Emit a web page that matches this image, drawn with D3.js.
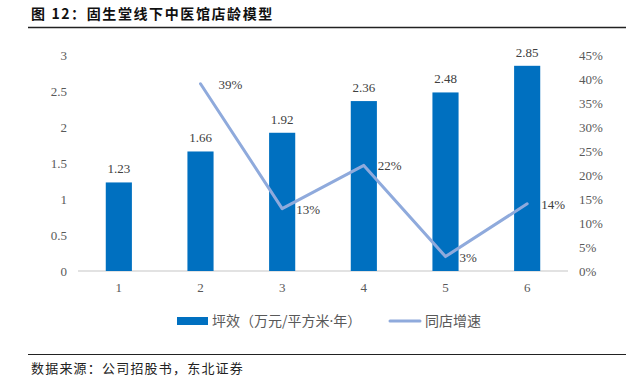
<!DOCTYPE html>
<html>
<head>
<meta charset="utf-8">
<script src="https://cdn.jsdelivr.net/npm/d3@7"></script>
<style>
html,body{margin:0;padding:0;background:#fff;}
svg{display:block;}
</style>
</head>
<body>
<svg id="chart" width="631" height="377"></svg>
<script>
const categories = ["1","2","3","4","5","6"];
const efficiency = [1.23, 1.66, 1.92, 2.36, 2.48, 2.85];
const efficiencyLabels = ["1.23","1.66","1.92","2.36","2.48","2.85"];
const growth = [null, 0.39, 0.13, 0.22, 0.03, 0.14];
const growthLabels = ["", "39%", "13%", "22%", "3%", "14%"];
const leftTicks = [0, 0.5, 1, 1.5, 2, 2.5, 3];
const rightTicks = [0, 0.05, 0.10, 0.15, 0.20, 0.25, 0.30, 0.35, 0.40, 0.45];
const legendParts = [["坪效（万元/平方米", "·", "年）"], ["同店增速"]];
const titleText = "图 12：固生堂线下中医馆店龄模型";
const sourceText = "数据来源：公司招股书，东北证券";

const svg = d3.select("#chart");
const serif = "'Liberation Serif','Times New Roman',serif";
const cjk = "'Noto Sans CJK SC','Noto Sans',sans-serif";
const barColor = "#0070C0";
const lineColor = "#8FAADC";
const textColor = "#595959";

// title
svg.append("text").attr("x", 31).attr("y", 19)
  .attr("font-family", cjk).attr("font-weight", "bold").attr("font-size", 14)
  .attr("letter-spacing", 1.6).attr("fill", "#111").text(titleText);
svg.append("line").attr("x1", 28).attr("x2", 626).attr("y1", 27.5).attr("y2", 27.5)
  .attr("stroke", "#222").attr("stroke-width", 1.5);

// footer
svg.append("line").attr("x1", 28).attr("x2", 626).attr("y1", 354.5).attr("y2", 354.5)
  .attr("stroke", "#222").attr("stroke-width", 1);
svg.append("text").attr("x", 31).attr("y", 373)
  .attr("font-family", cjk).attr("font-size", 13).attr("letter-spacing", 1.2)
  .attr("fill", "#222").text(sourceText);

// scales
const x = d3.scaleBand().domain(categories).range([78, 568]).paddingInner(0.68).paddingOuter(0.34);
const yL = d3.scaleLinear().domain([0, 3]).range([271, 55]);
const yR = d3.scaleLinear().domain([0, 0.45]).range([271, 55]);

// left axis
const axL = d3.axisLeft(yL).tickValues(leftTicks).tickSize(0).tickPadding(0)
  .tickFormat(d => d3.format("")(d));
const gL = svg.append("g").attr("transform", "translate(67,0)").call(axL);
gL.select(".domain").remove();
gL.selectAll("text").attr("font-family", serif).attr("font-size", 13).attr("fill", textColor);

// right axis
const axR = d3.axisRight(yR).tickValues(rightTicks).tickSize(0).tickPadding(0)
  .tickFormat(d => Math.round(d * 100) + "%");
const gR = svg.append("g").attr("transform", "translate(579,0)").call(axR);
gR.select(".domain").remove();
gR.selectAll("text").attr("font-family", serif).attr("font-size", 13).attr("fill", textColor);

// bottom axis
const axB = d3.axisBottom(x).tickSize(0).tickPadding(12);
const gB = svg.append("g").attr("transform", "translate(0,271)").call(axB);
gB.select(".domain").attr("stroke", "#D9D9D9").attr("stroke-width", 1.5)
  .attr("d", "M78,0H568");
gB.selectAll("text").attr("font-family", serif).attr("font-size", 13).attr("fill", textColor);

// bars
svg.append("g").selectAll("rect").data(efficiency).join("rect")
  .attr("x", (d, i) => x(categories[i]))
  .attr("width", x.bandwidth())
  .attr("y", d => yL(d))
  .attr("height", d => yL(0) - yL(d))
  .attr("fill", barColor);

svg.append("g").selectAll("text").data(efficiency).join("text")
  .attr("x", (d, i) => x(categories[i]) + x.bandwidth() / 2)
  .attr("y", d => yL(d) - 9)
  .attr("text-anchor", "middle")
  .attr("font-family", serif).attr("font-size", 13).attr("fill", "#404040")
  .text((d, i) => efficiencyLabels[i]);

// line
const pts = growth.map((g, i) => ({g, c: categories[i], l: growthLabels[i]})).filter(p => p.g !== null);
const line = d3.line().x(p => x(p.c) + x.bandwidth() / 2).y(p => yR(p.g));
svg.append("path").datum(pts).attr("d", line)
  .attr("fill", "none").attr("stroke", lineColor).attr("stroke-width", 3)
  .attr("stroke-linejoin", "round").attr("stroke-linecap", "round");

svg.append("g").selectAll("text").data(pts).join("text")
  .attr("x", p => x(p.c) + x.bandwidth() / 2 + (p.c === "2" ? 18 : 14))
  .attr("y", p => yR(p.g) + 5)
  .attr("font-family", serif).attr("font-size", 13).attr("fill", "#404040")
  .text(p => p.l);

// legend
const lg = svg.append("g");
lg.append("rect").attr("x", 177).attr("y", 317).attr("width", 31).attr("height", 8).attr("fill", barColor);
const t1 = lg.append("text").attr("x", 212).attr("y", 326).attr("font-family", cjk).attr("font-size", 14)
  .attr("fill", textColor);
t1.append("tspan").text(legendParts[0][0]);
t1.append("tspan").attr("font-family", "'Noto Sans','DejaVu Sans',sans-serif").text(legendParts[0][1]);
t1.append("tspan").text(legendParts[0][2]);
lg.append("line").attr("x1", 390).attr("x2", 420).attr("y1", 321).attr("y2", 321)
  .attr("stroke", lineColor).attr("stroke-width", 3).attr("stroke-linecap", "round");
lg.append("text").attr("x", 425).attr("y", 326).attr("font-family", cjk).attr("font-size", 14)
  .attr("fill", textColor).text(legendParts[1][0]);
</script>
</body>
</html>
